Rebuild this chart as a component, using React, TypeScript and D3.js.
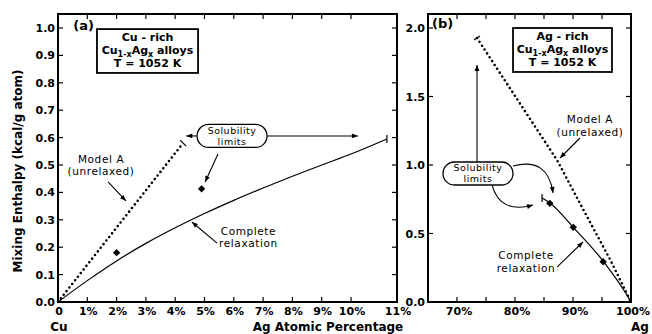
import * as d3 from 'd3';

// ---- data ----
// panel (a): Cu-rich, x in Ag at.%
const cuTicks = [0, 1, 2, 3, 4, 5, 6, 7, 8, 9, 10, 11];
const cuTickLabels = ['0', '1%', '2%', '3%', '4%', '5%', '6%', '7%', '8%', '9%', '10%', '11%'];
const enthalpyTicksA = [0, 0.1, 0.2, 0.3, 0.4, 0.5, 0.6, 0.7, 0.8, 0.9, 1.0];
const modelACuX = [0, 4.27];
const modelACuY = [0, 0.58];
const relaxCuX = [0, 1, 2, 3, 4, 5, 6, 7, 8, 9, 10, 10.78];
const relaxCuY = [0, 0.078, 0.15, 0.214, 0.271, 0.323, 0.371, 0.416, 0.459, 0.5, 0.54, 0.595];
const pointsCuX = [2.0, 4.9];
const pointsCuY = [0.18, 0.413];

// panel (b): Ag-rich
const agTicks = [65, 70, 75, 80, 85, 90, 95, 100];
const agTickLabels = [70, 80, 90, 100];
const enthalpyTicksB = [0, 0.5, 1.0, 1.5, 2.0];
const modelAAgX = [73.45, 87.24, 91.2, 96.4, 100];
const modelAAgY = [1.927, 1.036, 0.72, 0.31, 0];
const relaxAgX = [84.66, 86.03, 90, 95.17, 99.8, 100];
const relaxAgY = [0.759, 0.723, 0.547, 0.3, 0.015, 0];
const pointsAgX = [86.0, 90.05, 95.2];
const pointsAgY = [0.72, 0.545, 0.294];

const font = 'DejaVu Sans, sans-serif';

function Diamond({ x, y }: { x: number; y: number }) {
  return <rect x={x - 2.6} y={y - 2.6} width={5.2} height={5.2} transform={`rotate(45 ${x} ${y})`} fill="#000" />;
}

function Pill({ cx, cy }: { cx: number; cy: number }) {
  return (
    <g>
      <rect x={cx - 35} y={cy - 11.5} width={70} height={23} rx={11.5} fill="#fff" stroke="#000" strokeWidth={1.3} />
      <text x={cx} y={cy - 2} textAnchor="middle" fontFamily={font} fontSize={9.5} letterSpacing={0.5}>Solubility</text>
      <text x={cx} y={cy + 9} textAnchor="middle" fontFamily={font} fontSize={9.5} letterSpacing={0.5}>limits</text>
    </g>
  );
}

function InfoBox({ x0, y0, x1, y1, first }: { x0: number; y0: number; x1: number; y1: number; first: string }) {
  const cx = (x0 + x1) / 2;
  return (
    <g fontFamily={font} fontWeight="bold" fontSize={11} textAnchor="middle">
      <rect x={x0} y={y0} width={x1 - x0} height={y1 - y0} fill="#fff" stroke="#000" strokeWidth={1.8} />
      <text x={cx} y={y0 + 12}>{first}</text>
      <text x={cx} y={y0 + 25}>
        Cu<tspan fontSize={8} dy={2.5}>1-x</tspan>
        <tspan dy={-2.5}>Ag</tspan>
        <tspan fontSize={8} dy={2.5}>x</tspan>
        <tspan dy={-2.5}> alloys</tspan>
      </text>
      <text x={cx} y={y0 + 38}>T = 1052 K</text>
    </g>
  );
}

export default function App() {
  const top = 14, bottom = 302;
  const xA = d3.scaleLinear().domain([0, 10, 11]).range([58, 351, 397]);
  const yA = d3.scaleLinear().domain([0, 1]).range([bottom, 28]);
  const xB = d3.scaleLinear().domain([65, 100]).range([428, 631]);
  const yB = d3.scaleLinear().domain([0, 2]).range([bottom, 28]);

  const mkLine = (xs: number[], ys: number[], sx: any, sy: any, curve: any = d3.curveMonotoneX) =>
    d3.line<number>().x((d) => sx(xs[d])).y((d) => sy(ys[d])).curve(curve)(xs.map((_, i) => i)) || '';

  const dotted = { fill: 'none', stroke: '#000', strokeWidth: 2.6, strokeLinecap: 'round' as const, strokeDasharray: '0 4.6' };
  const solid = { fill: 'none', stroke: '#000', strokeWidth: 1.2 };
  const arrow = { stroke: '#000', strokeWidth: 1.1, fill: 'none', markerEnd: 'url(#ah)' };
  const tick = { stroke: '#000', strokeWidth: 1.2 };

  const axA = { l: xA(0), r: xA(11) };
  const axB = { l: xB(65), r: xB(100) };

  return (
    <svg width={652} height={334} style={{ position: 'absolute', left: 0, top: 0, background: '#fff' }}>
      <defs>
        <marker id="ah" viewBox="0 0 10 10" refX="10" refY="5" markerWidth="7" markerHeight="6" orient="auto" markerUnits="userSpaceOnUse">
          <path d="M0,1 L10,5 L0,9 Z" fill="#000" />
        </marker>
      </defs>

      {/* y label */}
      <text transform={`translate(22,${(70 + 272) / 2}) rotate(-90)`} textAnchor="middle" fontFamily={font} fontWeight="bold" fontSize={12}>
        Mixing Enthalpy (kcal/g atom)
      </text>

      {/* ===== panel (a) ===== */}
      <g>
        {cuTicks.slice(1, 11).map((t) => (
          <g key={'ta' + t}>
            <line x1={xA(t)} x2={xA(t)} y1={bottom} y2={bottom - 5} {...tick} />
            <line x1={xA(t)} x2={xA(t)} y1={top} y2={top + 5} {...tick} />
          </g>
        ))}
        {enthalpyTicksA.slice(1).map((t) => (
          <g key={'ya' + t}>
            <line x1={axA.l} x2={axA.l + 5} y1={yA(t)} y2={yA(t)} {...tick} />
            <line x1={axA.r} x2={axA.r - 5} y1={yA(t)} y2={yA(t)} {...tick} />
          </g>
        ))}
        <rect x={axA.l} y={top} width={axA.r - axA.l} height={bottom - top} fill="none" stroke="#000" strokeWidth={2} />
        {enthalpyTicksA.map((t) => (
          <text key={'yl' + t} x={axA.l - 3} y={yA(t) + 4} textAnchor="end" fontFamily={font} fontWeight="bold" fontSize={11}>
            {t.toFixed(1)}
          </text>
        ))}
        {cuTicks.map((t, i) => (
          <text key={'xl' + t} x={xA(t) + 1} y={315} textAnchor="middle" fontFamily={font} fontWeight="bold" fontSize={11}>
            {cuTickLabels[i]}
          </text>
        ))}
        <text x={xA(0) + 1} y={331} textAnchor="middle" fontFamily={font} fontWeight="bold" fontSize={12}>Cu</text>
        <text x={328} y={331} textAnchor="middle" fontFamily={font} fontWeight="bold" fontSize={12}>Ag Atomic Percentage</text>

        <text x={xA(0.52)} y={yA(0.993)} fontFamily={font} fontWeight="bold" fontSize={13}>(a)</text>
        <InfoBox x0={xA(1.33)} y0={yA(0.996)} x1={xA(4.78)} y1={yA(0.836)} first="Cu - rich" />

        {/* data */}
        <path d={mkLine(modelACuX, modelACuY, xA, yA, d3.curveLinear)} {...dotted} />
        <line x1={xA(4.27) - 3} y1={yA(0.58) - 3} x2={xA(4.27) + 3} y2={yA(0.58) + 3} {...tick} />
        <path d={mkLine(relaxCuX, relaxCuY, xA, yA)} {...solid} />
        <line x1={xA(10.78)} x2={xA(10.78)} y1={yA(0.595) - 4} y2={yA(0.595) + 4} {...tick} />
        {pointsCuX.map((x, i) => <Diamond key={'pa' + i} x={xA(x)} y={yA(pointsCuY[i])} />)}

        {/* annotations */}
        <line x1={xA(4.74)} y1={yA(0.606)} x2={xA(4.38)} y2={yA(0.606)} {...arrow} />
        <line x1={xA(7.13)} y1={yA(0.606)} x2={xA(10.15)} y2={yA(0.606)} {...arrow} />
        <line x1={xA(5.46)} y1={yA(0.54)} x2={xA(5.02)} y2={yA(0.438)} {...arrow} />
        <Pill cx={xA(5.94)} cy={yA(0.606)} />
        <g fontFamily={font} fontSize={10.5} letterSpacing={0.6} textAnchor="middle">
          <text x={xA(1.47)} y={yA(0.507)}>Model A</text>
          <text x={xA(1.47)} y={yA(0.465)}>(unrelaxed)</text>
          <text x={xA(6.5)} y={yA(0.245)}>Complete</text>
          <text x={xA(6.5)} y={yA(0.2)}>relaxation</text>
        </g>
        <line x1={xA(1.71)} y1={yA(0.438)} x2={xA(2.32)} y2={yA(0.369)} {...arrow} />
        <line x1={xA(5.43)} y1={yA(0.215)} x2={xA(4.57)} y2={yA(0.292)} {...arrow} />
      </g>

      {/* ===== panel (b) ===== */}
      <g>
        {agTicks.slice(1, 7).map((t) => (
          <g key={'tb' + t}>
            <line x1={xB(t)} x2={xB(t)} y1={bottom} y2={bottom - 5} {...tick} />
            <line x1={xB(t)} x2={xB(t)} y1={top} y2={top + 5} {...tick} />
          </g>
        ))}
        {enthalpyTicksB.slice(1).map((t) => (
          <g key={'yb' + t}>
            <line x1={axB.l} x2={axB.l + 5} y1={yB(t)} y2={yB(t)} {...tick} />
            <line x1={axB.r} x2={axB.r - 5} y1={yB(t)} y2={yB(t)} {...tick} />
          </g>
        ))}
        <rect x={axB.l} y={top} width={axB.r - axB.l} height={bottom - top} fill="none" stroke="#000" strokeWidth={2} />
        {enthalpyTicksB.map((t) => (
          <text key={'ylb' + t} x={axB.l - 3} y={yB(t) + 4} textAnchor="end" fontFamily={font} fontWeight="bold" fontSize={11}>
            {t.toFixed(1)}
          </text>
        ))}
        {agTickLabels.map((t) => (
          <text key={'xlb' + t} x={xB(t) + 2} y={315} textAnchor="middle" fontFamily={font} fontWeight="bold" fontSize={11}>
            {t + '%'}
          </text>
        ))}
        <text x={xB(100) + 9} y={331} textAnchor="middle" fontFamily={font} fontWeight="bold" fontSize={12}>Ag</text>

        <text x={xB(65.7)} y={yB(2.0)} fontFamily={font} fontWeight="bold" fontSize={13}>(b)</text>
        <InfoBox x0={xB(79.66)} y0={yB(2.0)} x1={xB(96.72)} y1={yB(1.679)} first="Ag - rich" />

        {/* data */}
        <path d={mkLine(modelAAgX, modelAAgY, xB, yB, d3.curveLinear)} {...dotted} />
        <line x1={xB(73.45) - 3} y1={yB(1.927) + 2} x2={xB(73.45) + 3} y2={yB(1.927) - 2} {...tick} />
        <path d={mkLine(relaxAgX, relaxAgY, xB, yB)} {...solid} />
        <line x1={xB(84.66)} x2={xB(84.66)} y1={yB(0.759) - 4} y2={yB(0.759) + 4} {...tick} />
        {pointsAgX.map((x, i) => <Diamond key={'pb' + i} x={xB(x)} y={yB(pointsAgY[i])} />)}

        {/* annotations */}
        <line x1={xB(73.45)} y1={yB(1.012)} x2={xB(73.45)} y2={yB(1.73)} {...arrow} />
        <path d={`M${xB(79.66)},${yB(0.993)} Q${xB(85.69)},${yB(1.06)} ${xB(86.55)},${yB(0.796)}`} {...arrow} />
        <path d={`M${xB(76.03)},${yB(0.855)} Q${xB(77.41)},${yB(0.64)} ${xB(83.1)},${yB(0.708)}`} {...arrow} />
        <Pill cx={xB(73.62)} cy={yB(0.938)} />
        <g fontFamily={font} fontSize={10.5} letterSpacing={0.6} textAnchor="middle">
          <text x={xB(92.93)} y={yB(1.307)}>Model A</text>
          <text x={xB(92.93)} y={yB(1.214)}>(unrelaxed)</text>
          <text x={xB(81.9)} y={yB(0.314)}>Complete</text>
          <text x={xB(81.9)} y={yB(0.219)}>relaxation</text>
        </g>
        <line x1={xB(91.2)} y1={yB(1.197)} x2={xB(87.76)} y2={yB(1.051)} {...arrow} />
        <line x1={xB(87.24)} y1={yB(0.255)} x2={xB(91.72)} y2={yB(0.438)} {...arrow} />
      </g>
    </svg>
  );
}
